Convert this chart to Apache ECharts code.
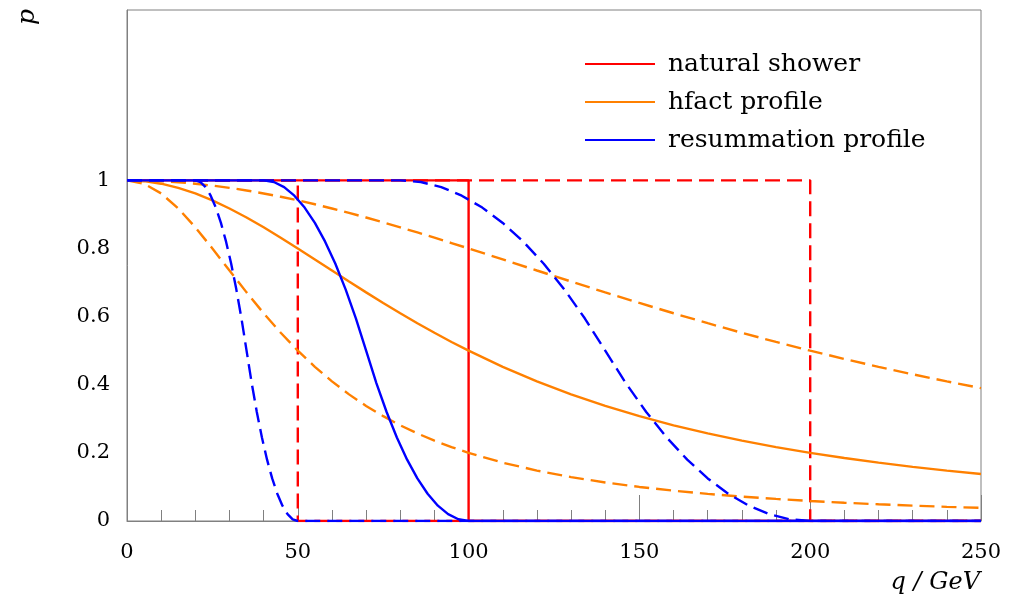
<!DOCTYPE html>
<html>
<head>
<meta charset="utf-8">
<script src="https://cdn.jsdelivr.net/npm/echarts@6/dist/echarts.min.js"></script>
<style>
  html, body { margin: 0; padding: 0; background: #fff; }
  #chart { width: 1010px; height: 602px; }
</style>
</head>
<body>
<div id="chart"></div>
<script>
// x positions (q in GeV) for the orange profiles
var qGrid = [0, 5, 10, 15, 20, 25, 30, 35, 40, 45, 50, 55, 60, 65, 70, 75, 80, 85, 90, 95, 100,
  110, 120, 130, 140, 150, 160, 170, 180, 190, 200, 210, 220, 230, 240, 250];
var hfactMid = [1, 0.9975, 0.9901, 0.978, 0.9615, 0.9412, 0.9174, 0.8909, 0.8621, 0.8316, 0.8, 0.7678,
  0.7353, 0.703, 0.6711, 0.64, 0.6098, 0.5806, 0.5525, 0.5256, 0.5,
  0.4525, 0.4098, 0.3717, 0.3378, 0.3077, 0.2809, 0.2571, 0.2358, 0.2169, 0.2, 0.1848, 0.1712, 0.159, 0.1479, 0.1379];
var hfactLow = [1, 0.9901, 0.9615, 0.9174, 0.8621, 0.8, 0.7353, 0.6711, 0.6098, 0.5525, 0.5, 0.4525,
  0.4098, 0.3717, 0.3378, 0.3077, 0.2809, 0.2571, 0.2358, 0.2169, 0.2,
  0.1712, 0.1479, 0.1289, 0.1131, 0.1, 0.089, 0.0796, 0.0716, 0.0648, 0.0588, 0.0536, 0.0491, 0.0451, 0.0416, 0.0385];
var hfactHigh = [1, 0.9994, 0.9975, 0.9944, 0.9901, 0.9846, 0.978, 0.9703, 0.9615, 0.9518, 0.9412, 0.9297,
  0.9174, 0.9045, 0.8909, 0.8767, 0.8621, 0.847, 0.8316, 0.8159, 0.8,
  0.7678, 0.7353, 0.703, 0.6711, 0.64, 0.6098, 0.5806, 0.5525, 0.5256, 0.5, 0.4756, 0.4525, 0.4306, 0.4098, 0.3902];

// resummation profiles: same falling shape, different q ranges
var resumShape = [1, 0.995, 0.98, 0.955, 0.92, 0.875, 0.82, 0.755, 0.68, 0.595, 0.5,
  0.405, 0.32, 0.245, 0.18, 0.125, 0.08, 0.045, 0.02, 0.005, 0];
var resumMidQ = [40, 43, 46, 49, 52, 55, 58, 61, 64, 67, 70, 73, 76, 79, 82, 85, 88, 91, 94, 97, 100];
var resumLowQ = [20, 21.5, 23, 24.5, 26, 27.5, 29, 30.5, 32, 33.5, 35, 36.5, 38, 39.5, 41, 42.5, 44, 45.5, 47, 48.5, 50];
var resumHighQ = [80, 86, 92, 98, 104, 110, 116, 122, 128, 134, 140, 146, 152, 158, 164, 170, 176, 182, 188, 194, 200];

// natural shower steps
var showerMid = [[0, 1], [100, 1], [100, 0], [250, 0]];
var showerLow = [[0, 1], [50, 1], [50, 0], [250, 0]];
var showerHigh = [[0, 1], [200, 1], [200, 0], [250, 0]];

var yTicks = [0, 0.2, 0.4, 0.6, 0.8, 1];

function pairs(xs, ys) {
  var out = [];
  for (var i = 0; i < xs.length; i++) out.push([xs[i], ys[i]]);
  return out;
}
function resum(xs) {
  return [[0, 1]].concat(pairs(xs, resumShape), [[250, 0]]);
}

var RED = "#ff0000", ORANGE = "#ff8000", BLUE = "#0000ff";
var SERIF = "DejaVu Serif";
var dash = [15, 7];

function line(name, data, color, dashed) {
  return {
    name: name,
    type: "line",
    data: data,
    symbol: "none",
    animation: false,
    lineStyle: { color: color, width: 2.4, type: dashed ? dash : "solid" },
    itemStyle: { color: color }
  };
}

var myChart = echarts.init(document.getElementById("chart"));
myChart.setOption({
  animation: false,
  grid: {
    left: 127,
    right: 29,
    top: 10,
    bottom: 81,
    show: true,
    borderColor: "#808080",
    borderWidth: 1
  },
  legend: {
    orient: "vertical",
    left: 580,
    top: 44,
    icon: "rect",
    itemWidth: 70,
    itemHeight: 2,
    itemGap: 8,
    data: ["natural shower", "hfact profile", "resummation profile"],
    textStyle: {
      fontFamily: SERIF,
      fontSize: 25,
      color: "#000",
      lineHeight: 30,
      padding: [0, 0, 0, 8]
    }
  },
  xAxis: {
    type: "value",
    min: 0,
    max: 250,
    interval: 50,
    axisLine: { lineStyle: { color: "#808080" } },
    axisTick: { inside: true, length: 26, lineStyle: { color: "#808080" } },
    minorTick: { show: true, splitNumber: 5, length: 11, lineStyle: { color: "#808080" } },
    splitLine: { show: false },
    axisLabel: { margin: 21, fontFamily: SERIF, fontSize: 21, color: "#000" }
  },
  yAxis: {
    type: "value",
    min: 0,
    max: 1.5,
    interval: 0.2,
    axisLine: { show: true, lineStyle: { color: "#808080" } },
    axisTick: { show: false },
    splitLine: { show: false },
    axisLabel: {
      margin: 17,
      fontFamily: SERIF,
      fontSize: 21,
      color: "#000",
      showMaxLabel: false,
      formatter: function (v) {
        var r = Math.round(v * 10) / 10;
        return yTicks.indexOf(r) >= 0 ? String(r) : "";
      }
    }
  },
  graphic: [
    {
      type: "group",
      x: 27,
      y: 17,
      rotation: Math.PI / 2,
      children: [
        {
          type: "text",
          style: {
            text: "p",
            font: "italic 25px 'DejaVu Serif'",
            fill: "#000",
            align: "center",
            verticalAlign: "middle"
          }
        }
      ]
    },
    {
      type: "text",
      right: 30,
      top: 571,
      style: { text: "q / GeV", font: "italic 24px 'DejaVu Serif'", fill: "#000" }
    }
  ],
  series: [
    line("natural shower", showerMid, RED, false),
    line("natural shower low", showerLow, RED, true),
    line("natural shower high", showerHigh, RED, true),
    line("hfact profile", pairs(qGrid, hfactMid), ORANGE, false),
    line("hfact profile low", pairs(qGrid, hfactLow), ORANGE, true),
    line("hfact profile high", pairs(qGrid, hfactHigh), ORANGE, true),
    line("resummation profile", resum(resumMidQ), BLUE, false),
    line("resummation profile low", resum(resumLowQ), BLUE, true),
    line("resummation profile high", resum(resumHighQ), BLUE, true)
  ]
});
</script>
</body>
</html>
